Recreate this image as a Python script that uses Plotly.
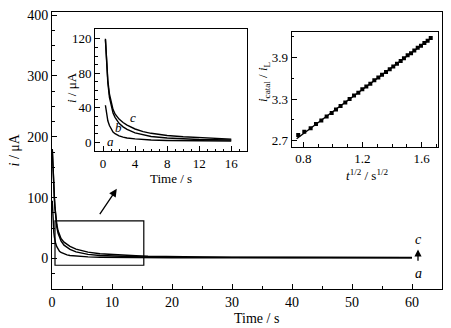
import plotly.graph_objects as go

# ---------------- data ----------------
t_s = [0.05, 0.1, 0.2, 0.3, 0.4, 0.5, 0.6, 0.8, 1.0, 1.25, 1.5, 2, 2.5, 3, 4, 5, 6, 8,
       10, 12, 14, 16, 20, 25, 30, 40, 50, 60]
i_c = [180, 165, 140, 120, 100, 84, 72, 56, 46, 38, 33, 27, 23, 20, 15.5, 12.5, 10.5, 8,
       6.5, 5.5, 4.6, 3.8, 3.0, 2.6, 2.3, 2.0, 1.9, 1.8]
i_b = [178, 163, 138, 119, 98, 82, 69, 52, 42, 34, 29, 22, 18, 15, 11, 8.5, 6.8, 5,
       4, 3.3, 3.0, 2.7, 2.3, 2.0, 1.9, 1.8, 1.7, 1.6]
i_a = [95, 75, 55, 43, 35, 29, 25, 19.5, 15.5, 12, 10, 7.5, 6, 5, 4, 3.2, 2.7, 2.2,
       1.9, 1.8, 1.6, 1.5, 1.4, 1.3, 1.3, 1.2, 1.2, 1.2]
curve_names = ["a", "b", "c"]

inset_t_min = 0.3
inset_t_max = 16

sqrt_t = [0.766, 0.807, 0.850, 0.886, 0.922, 0.958, 0.992, 1.021, 1.052, 1.084, 1.113,
          1.143, 1.172, 1.199, 1.226, 1.253, 1.280, 1.307, 1.332, 1.359, 1.384, 1.408,
          1.433, 1.458, 1.480, 1.505, 1.528, 1.550, 1.573, 1.595, 1.618, 1.640, 1.661]
ratio = [2.78, 2.83, 2.88, 2.94, 2.99, 3.05, 3.10, 3.15, 3.20, 3.25, 3.30,
         3.35, 3.39, 3.44, 3.48, 3.52, 3.57, 3.61, 3.65, 3.69, 3.73, 3.77,
         3.81, 3.85, 3.89, 3.93, 3.96, 4.00, 4.04, 4.07, 4.11, 4.14, 4.18]
fit_x = [0.755, 1.665]
fit_y = [2.727, 4.182]

zoom_box = [0.5, 15.3, -11, 62]          # x0, x1, y0, y1 in main data units
zoom_arrow = [7.8, 70.7, 10.8, 114.5]    # tail x, tail y, head x, head y
order_arrow = [61, -6, 61, 15]           # a -> c arrow

# ---------------- layout helpers ----------------
W, H = 451, 328
L, R, T, B = 52, 9, 12, 39
PW, PH = W - L - R, H - T - B

def px(x):
    return (x - L) / PW

def py(y):
    return (H - B - y) / PH

FONT = "Liberation Serif"
black = "black"

fig = go.Figure()

# main curves
for name, vals in zip(curve_names, [i_a, i_b, i_c]):
    fig.add_trace(go.Scatter(x=t_s, y=vals, mode="lines",
                             line=dict(color=black, width=1.4),
                             xaxis="x", yaxis="y", showlegend=False, name=name))

# inset 1 curves
for name, vals in zip(curve_names, [i_a, i_b, i_c]):
    xs = [t for t in t_s if inset_t_min <= t <= inset_t_max]
    ys = [v for t, v in zip(t_s, vals) if inset_t_min <= t <= inset_t_max]
    fig.add_trace(go.Scatter(x=xs, y=ys, mode="lines",
                             line=dict(color=black, width=1.4),
                             xaxis="x2", yaxis="y2", showlegend=False, name=name))

# inset 2
fig.add_trace(go.Scatter(x=fit_x, y=fit_y, mode="lines",
                         line=dict(color=black, width=1.4),
                         xaxis="x3", yaxis="y3", showlegend=False))
fig.add_trace(go.Scatter(x=sqrt_t, y=ratio, mode="markers",
                         marker=dict(color=black, size=4, symbol="square"),
                         xaxis="x3", yaxis="y3", showlegend=False))

def ax(**kw):
    base = dict(showline=True, linecolor=black, linewidth=1, mirror=True,
                ticks="inside", ticklen=5, tickwidth=1, tickcolor=black,
                showgrid=False, zeroline=False, ticklabelstandoff=0,
                tickfont=dict(family=FONT, size=13, color=black))
    base.update(kw)
    return base

fig.update_layout(
    width=W, height=H,
    margin=dict(l=L, r=R, t=T, b=B),
    paper_bgcolor="white", plot_bgcolor="white",
    font=dict(family=FONT, color=black),
    xaxis=ax(range=[0, 65], dtick=10, tick0=0,
             minor=dict(dtick=5, ticks="inside", ticklen=3, tickcolor=black),
             tickfont=dict(family=FONT, size=14, color=black), domain=[0, 1]),
    yaxis=ax(range=[-50, 405], dtick=100, tick0=0,
             minor=dict(dtick=25, ticks="inside", ticklen=3, tickcolor=black),
             tickfont=dict(family=FONT, size=14, color=black), domain=[0, 1]),
    xaxis2=ax(range=[-1, 18], dtick=4, tick0=0, anchor="y2",
              minor=dict(dtick=1, ticks="inside", ticklen=2.5, tickcolor=black),
              domain=[px(95), px(247.3)]),
    yaxis2=ax(range=[-10, 131], dtick=40, tick0=0, anchor="x2",
              minor=dict(dtick=10, ticks="inside", ticklen=2.5, tickcolor=black),
              domain=[py(151), py(29.3)]),
    xaxis3=ax(range=[0.722, 1.71], dtick=0.4, tick0=0.8, anchor="y3", tickformat=".1f",
              minor=dict(dtick=0.1, ticks="inside", ticklen=2.5, tickcolor=black),
              domain=[px(291.7), px(438)]),
    yaxis3=ax(range=[2.613, 4.267], dtick=0.6, tick0=2.7, anchor="x3", tickformat=".1f",
              minor=dict(dtick=0.3, ticks="inside", ticklen=2.5, tickcolor=black),
              domain=[py(146.7), py(32)]),
)

# zoom box
fig.add_shape(type="rect", xref="x", yref="y",
              x0=zoom_box[0], x1=zoom_box[1], y0=zoom_box[2], y1=zoom_box[3],
              line=dict(color=black, width=1.2))

annos = []
annos.append(dict(x=zoom_arrow[2], y=zoom_arrow[3], ax=zoom_arrow[0], ay=zoom_arrow[1],
                  xref="x", yref="y", axref="x", ayref="y", text="", showarrow=True,
                  arrowhead=2, arrowsize=1.2, arrowwidth=1.3, arrowcolor=black))
annos.append(dict(x=order_arrow[2], y=order_arrow[3], ax=order_arrow[0], ay=order_arrow[1],
                  xref="x", yref="y", axref="x", ayref="y", text="", showarrow=True,
                  arrowhead=2, arrowsize=1.1, arrowwidth=1.3, arrowcolor=black))

def txt(x, y, s, size=14, angle=0, xref="paper", yref="paper"):
    annos.append(dict(x=x, y=y, xref=xref, yref=yref, text=s, showarrow=False,
                      textangle=angle, xanchor="center", yanchor="middle",
                      font=dict(family=FONT, size=size, color=black)))

# curve labels
txt(61, 32, "<i>c</i>", 14, xref="x", yref="y")
txt(61, -25, "<i>a</i>", 14, xref="x", yref="y")
txt(3.74, 29, "<i>c</i>", 13, xref="x2", yref="y2")
txt(1.87, 17, "<i>b</i>", 13, xref="x2", yref="y2")
txt(0.96, 1.5, "<i>a</i>", 13, xref="x2", yref="y2")

# axis titles
txt(px(14), py(150.5), "<i>i</i> / μA", 14, angle=-90)
txt(px(256), py(318), "Time / s", 14)
txt(px(71), py(88), "<i>i</i> / μA", 13, angle=-90)
txt(px(171), py(178), "Time / s", 13)
txt(px(263), py(82), "<i>i</i><sub>catal</sub> / <i>i</i><sub>L</sub>", 13, angle=-90)
txt(px(366.7), py(175), "<i>t</i><sup>1/2</sup> / s<sup>1/2</sup>", 13)

fig.update_layout(annotations=annos)

fig.write_html("out.html")
